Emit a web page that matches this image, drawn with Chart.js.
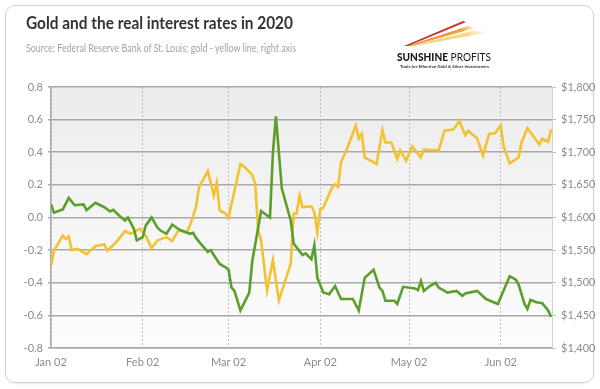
<!DOCTYPE html>
<html>
<head>
<meta charset="utf-8">
<script src="https://cdn.jsdelivr.net/npm/chart.js@4.4.1/dist/chart.umd.min.js"></script>
<style>
    html, body { margin: 0; padding: 0; background: #fff; }
    #wrap { position: relative; width: 600px; height: 389px; overflow: hidden; }
    #card {
        position: absolute; left: 5px; top: 5px; width: 587px; height: 376px;
        border: 1px solid #d2d2d2; border-radius: 10px;
        box-shadow: 0 1px 2px rgba(0, 0, 0, 0.08);
    }
    #chart { position: absolute; left: 0; top: 0; }
    #overlay { position: absolute; left: 0; top: 0; }
</style>
</head>
<body>
<div id="wrap">
    <div id="card"></div>
    <canvas id="chart" width="600" height="389"></canvas>
    <svg id="overlay" width="600" height="80" xmlns="http://www.w3.org/2000/svg">
        <defs>
            <linearGradient id="fadeRed" x1="0" x2="1" y1="0" y2="0">
                <stop offset="0" stop-color="#b01c1c" stop-opacity="0.9"/>
                <stop offset="1" stop-color="#d6302a" stop-opacity="1"/>
            </linearGradient>
            <linearGradient id="fadeOrange" x1="0" x2="1" y1="0" y2="0">
                <stop offset="0" stop-color="#e07a22" stop-opacity="0.8"/>
                <stop offset="0.8" stop-color="#f0a040" stop-opacity="1"/>
                <stop offset="1" stop-color="#f6c070" stop-opacity="0.2"/>
            </linearGradient>
            <linearGradient id="fadeYellow" x1="0" x2="1" y1="0" y2="0">
                <stop offset="0" stop-color="#f2c24a" stop-opacity="0.8"/>
                <stop offset="0.7" stop-color="#f7d680" stop-opacity="0.9"/>
                <stop offset="1" stop-color="#fbe9c0" stop-opacity="0"/>
            </linearGradient>
        </defs>
        <text x="26" y="29" font-family="Lato, 'Open Sans', sans-serif" font-weight="bold" font-size="16.5"
              fill="#333" textLength="267" lengthAdjust="spacingAndGlyphs">Gold and the real interest rates in 2020</text>
        <text x="26" y="52" font-family="Lato, 'Open Sans', sans-serif" font-size="10.5"
              fill="#a3a3a3" textLength="270" lengthAdjust="spacingAndGlyphs">Source: Federal Reserve Bank of St. Louis; gold - yellow line, right axis</text>

        <!-- logo -->
        <polygon points="404,46 463,21 466,22 408,46" fill="url(#fadeRed)"/>
        <polygon points="407,46 468,26 475,28 411,46" fill="url(#fadeOrange)"/>
        <polygon points="410,46 472,31 492,32 414,46" fill="url(#fadeYellow)"/>
        <text x="397" y="61" font-family="Lato, 'Open Sans', sans-serif" font-size="11.5" fill="#1a1a1a"
              textLength="94" lengthAdjust="spacingAndGlyphs"><tspan font-weight="900">SUNSHINE</tspan> PROFITS</text>
        <text x="400" y="67.5" font-family="Lato, 'Open Sans', sans-serif" font-size="4.2" font-weight="bold" fill="#333"
              textLength="89" lengthAdjust="spacingAndGlyphs">Tools for Effective Gold &amp; Silver Investments</text>
    </svg>
</div>
<script>
// x values are day-of-year 2020 (Jan 02 = 2)
const monthTickDays = [2, 33, 62, 93, 123, 154];
const monthTickLabels = ['Jan 02', 'Feb 02', 'Mar 02', 'Apr 02', 'May 02', 'Jun 02'];

// real interest rate (green, left axis)
const rateDays = [2, 3, 6, 8, 10, 13, 14, 17, 20, 22, 23, 25, 27, 28, 30, 31, 33, 34, 36, 38,
    39, 41, 43, 45, 46, 49, 50, 51, 53, 55, 56, 57, 59, 61, 62, 63, 64, 66, 69, 70,
    73, 76, 77, 78, 80, 83, 84, 87, 88, 90, 91, 92, 94, 96, 98, 100, 104, 106, 108, 111,
    113, 114, 115, 118, 119, 121, 125, 126, 127, 128, 130, 132, 133, 136, 139, 141, 142, 146, 149, 153,
    157, 159, 160, 162, 163, 164, 166, 168, 170, 171];
const rateValues = [0.08, 0.03, 0.05, 0.12, 0.075, 0.08, 0.045, 0.09, 0.063, 0.037, 0.047, 0.012, -0.018, 0.0, -0.07, -0.14, -0.12, -0.05, 0.0, -0.063,
    -0.08, -0.1, -0.043, -0.07, -0.08, -0.1, -0.094, -0.125, -0.17, -0.21, -0.2, -0.23, -0.285, -0.305, -0.32, -0.43, -0.45, -0.57, -0.46, -0.27,
    0.04, 0.0, 0.40, 0.62, 0.177, -0.018, -0.16, -0.23, -0.22, -0.255, -0.17, -0.37, -0.46, -0.47, -0.42, -0.5, -0.5, -0.57, -0.37, -0.32,
    -0.43, -0.45, -0.51, -0.51, -0.53, -0.425, -0.435, -0.445, -0.39, -0.45, -0.42, -0.40, -0.43, -0.46, -0.45, -0.48, -0.466, -0.45, -0.5, -0.53,
    -0.36, -0.38, -0.41, -0.53, -0.56, -0.505, -0.52, -0.525, -0.57, -0.61];

// gold price (yellow, right axis)
const goldDays = [2, 3, 6, 7, 8, 9, 11, 14, 17, 20, 21, 24, 27, 29, 32, 33, 34, 36, 38, 41,
    43, 45, 48, 49, 51, 52, 55, 57, 58, 59, 61, 62, 64, 66, 68, 70, 71, 72, 73, 75,
    77, 79, 81, 83, 84, 85, 86, 87, 90, 91, 92, 93, 94, 97, 98, 99, 100, 102, 105, 106,
    107, 108, 110, 112, 114, 115, 117, 119, 120, 122, 124, 127, 128, 133, 135, 138, 140, 142, 143, 146,
    148, 150, 152, 154, 155, 157, 160, 161, 163, 167, 168, 169, 170, 171];
const goldValues = [1526, 1549, 1572, 1567, 1571, 1550, 1552, 1544, 1556, 1559, 1549, 1562, 1579, 1575, 1583, 1577, 1572, 1553, 1565, 1570,
    1564, 1580, 1578, 1588, 1616, 1646, 1671, 1634, 1653, 1611, 1606, 1600, 1641, 1682, 1675, 1665, 1652, 1580, 1565, 1488,
    1535, 1473, 1501, 1529, 1606, 1606, 1634, 1616, 1617, 1608, 1577, 1613, 1615, 1646, 1651, 1647, 1685, 1705, 1741, 1721,
    1728, 1692, 1687, 1682, 1734, 1715, 1715, 1690, 1703, 1687, 1709, 1692, 1704, 1703, 1733, 1735, 1748, 1726, 1733, 1721,
    1695, 1728, 1729, 1741, 1708, 1683, 1692, 1715, 1737, 1712, 1721, 1718, 1716, 1735];

const rateMin = -0.8, rateMax = 0.8, rateStep = 0.2;
const goldMin = 1400, goldMax = 1800, goldStep = 50;

const plotBackground = {
    id: 'plotBackground',
    beforeDraw(chart) {
        const { ctx, chartArea: a } = chart;
        const g = ctx.createLinearGradient(0, a.top, 0, a.bottom);
        g.addColorStop(0, '#ececec');
        g.addColorStop(1, '#fdfdfd');
        ctx.save();
        ctx.fillStyle = g;
        ctx.fillRect(a.left, a.top, a.right - a.left, a.bottom - a.top);
        ctx.restore();
    }
};

const tickFont = { family: 'Lato, "Open Sans", sans-serif', size: 11 };
const tickColor = '#8c8c8c';

new Chart(document.getElementById('chart').getContext('2d'), {
    type: 'line',
    data: {
        datasets: [{
            label: 'Real interest rate',
            data: rateDays.map((d, i) => ({ x: d, y: rateValues[i] })),
            yAxisID: 'y',
            borderColor: '#5b9f2a',
            borderWidth: 2.6,
            pointRadius: 0,
            tension: 0
        }, {
            label: 'Gold',
            data: goldDays.map((d, i) => ({ x: d, y: goldValues[i] })),
            yAxisID: 'y2',
            borderColor: '#f2c230',
            borderWidth: 2.6,
            pointRadius: 0,
            tension: 0
        }]
    },
    options: {
        responsive: false,
        animation: false,
        devicePixelRatio: 1,
        layout: { padding: { top: 87, left: 0, right: 0, bottom: 0 } },
        plugins: {
            legend: { display: false },
            tooltip: { enabled: false }
        },
        scales: {
            x: {
                type: 'linear',
                min: monthTickDays[0],
                max: 171.3,
                afterBuildTicks: scale => {
                    scale.ticks = monthTickDays.map(v => ({ value: v }));
                },
                afterFit: scale => { scale.height = 41; },
                grid: { color: '#bdbdbd', lineWidth: 1, drawTicks: false },
                border: { color: '#a9a9a9', width: 1.5, dash: [2, 2] },
                ticks: {
                    color: tickColor,
                    font: tickFont,
                    padding: 8,
                    maxRotation: 0,
                    callback: (v, i) => monthTickLabels[i]
                }
            },
            y: {
                position: 'left',
                min: rateMin,
                max: rateMax,
                afterFit: scale => { scale.width = 51; },
                grid: { color: '#a9a9a9', lineWidth: 1.5, tickLength: 3 },
                border: { color: '#a9a9a9', width: 1.5 },
                ticks: {
                    stepSize: rateStep,
                    color: tickColor,
                    font: tickFont,
                    padding: 5,
                    callback: v => v.toFixed(1)
                }
            },
            y2: {
                position: 'right',
                min: goldMin,
                max: goldMax,
                afterFit: scale => { scale.width = 48; },
                grid: { drawOnChartArea: false, color: '#bdbdbd', tickLength: 4 },
                border: { color: '#d0d0d0', width: 1 },
                ticks: {
                    stepSize: goldStep,
                    color: tickColor,
                    font: tickFont,
                    padding: 5,
                    callback: v => '$' + v.toLocaleString('en-US')
                }
            }
        }
    },
    plugins: [plotBackground]
});
</script>
</body>
</html>
